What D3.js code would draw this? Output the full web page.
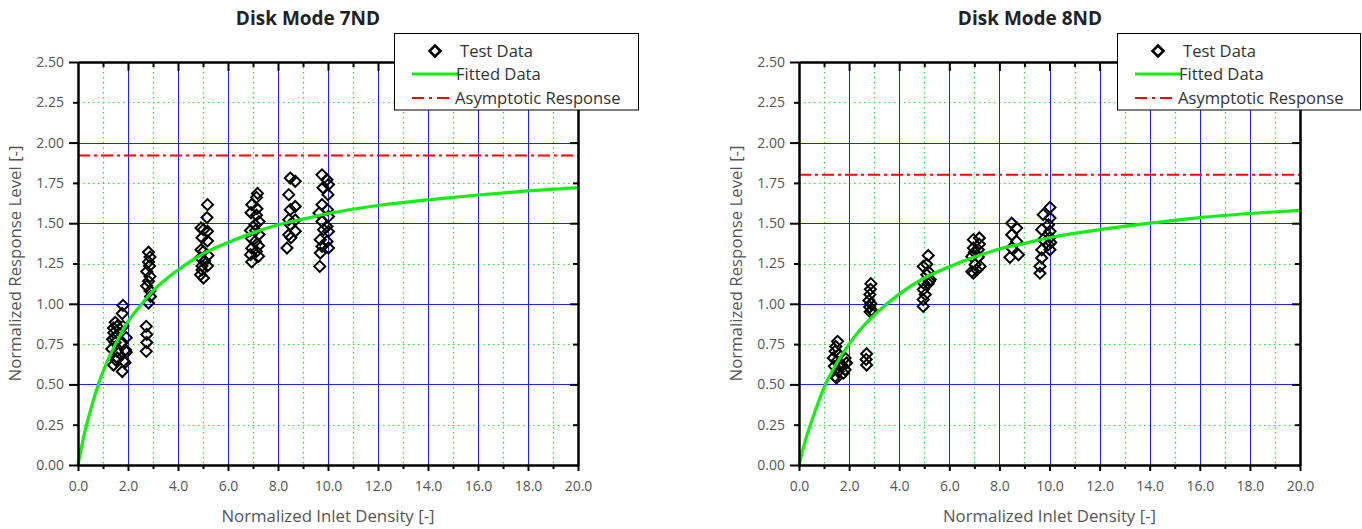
<!DOCTYPE html>
<html>
<head>
<meta charset="utf-8">
<script src="https://cdn.jsdelivr.net/npm/d3@7"></script>
<style>
  html, body { margin: 0; padding: 0; background: #fff; }
  svg { display: block; font-family: "Open Sans", "Noto Sans", sans-serif; }
</style>
</head>
<body>
<svg id="chart" width="1362" height="529"></svg>
<script>
// ---- Data -------------------------------------------------------------
const chartTitles = ["Disk Mode 7ND", "Disk Mode 8ND"];
const legendLabels = ["Test Data", "Fitted Data", "Asymptotic Response"];
const xAxisTitle = "Normalized Inlet Density [-]";
const yAxisTitle = "Normalized Response Level [-]";

const xMajorTicks = [0, 2, 4, 6, 8, 10, 12, 14, 16, 18, 20];
const xMinorTicks = [1, 3, 5, 7, 9, 11, 13, 15, 17, 19];
const yMajorTicks = [0, 0.5, 1.0, 1.5, 2.0, 2.5];
const yMinorTicks = [0.25, 0.75, 1.25, 1.75, 2.25];
const yTickLabels = ["0.00", "0.25", "0.50", "0.75", "1.00", "1.25", "1.50", "1.75", "2.00", "2.25", "2.50"];

// measured test points [density, response]
const mode7Test = [
  [1.80,0.99],[1.77,0.94],[1.49,0.885],[1.80,0.86],[1.56,0.86],[1.43,0.82],[1.47,0.79],[1.93,0.79],
  [1.49,0.76],[1.77,0.76],[1.90,0.715],[1.56,0.705],[1.93,0.70],[1.56,0.665],[1.83,0.645],[1.42,0.62],
  [1.88,0.635],[1.77,0.58],[1.38,0.78],[1.35,0.72],[1.52,0.65],[1.42,0.85],
  [2.82,1.32],[2.88,1.29],[2.82,1.26],[2.86,1.235],[2.75,1.20],[2.88,1.17],[2.82,1.14],[2.75,1.11],
  [2.88,1.08],[2.90,1.045],[2.82,1.005],[2.73,0.86],[2.75,0.81],[2.75,0.76],[2.73,0.705],
  [5.18,1.615],[5.16,1.535],[4.92,1.47],[5.02,1.46],[5.18,1.45],[4.96,1.41],[5.18,1.39],[4.92,1.335],
  [5.02,1.325],[5.20,1.30],[4.90,1.285],[5.06,1.265],[4.96,1.235],[5.18,1.235],[4.90,1.18],[5.02,1.16],[4.96,1.21],
  [7.18,1.685],[7.14,1.66],[6.95,1.615],[7.16,1.59],[6.92,1.565],[7.14,1.55],[7.24,1.51],[7.08,1.49],
  [6.90,1.455],[7.10,1.455],[7.24,1.43],[6.94,1.405],[7.09,1.387],[7.22,1.36],[6.95,1.345],[7.14,1.325],
  [6.90,1.305],[7.22,1.295],[6.95,1.26],
  [8.49,1.78],[8.69,1.76],[8.43,1.677],[8.69,1.604],[8.49,1.584],[8.43,1.522],[8.69,1.52],[8.49,1.49],
  [8.69,1.45],[8.43,1.428],[8.52,1.41],[8.36,1.346],
  [9.76,1.80],[9.96,1.77],[10.02,1.74],[9.80,1.72],[10.0,1.677],[9.76,1.615],[9.98,1.584],[9.64,1.563],
  [10.02,1.542],[9.76,1.511],[9.96,1.48],[9.82,1.46],[10.02,1.449],[9.69,1.398],[9.96,1.387],[9.76,1.356],
  [10.02,1.346],[9.69,1.315],[9.67,1.232]
];

const mode8Test = [
  [1.54,0.767],[1.44,0.705],[1.37,0.664],[1.84,0.664],[1.50,0.643],[1.90,0.633],[1.70,0.622],[1.41,0.612],
  [1.84,0.591],[1.57,0.58],[1.77,0.57],[1.44,0.55],[1.50,0.54],[1.47,0.735],[1.64,0.612],[1.60,0.685],
  [2.70,0.69],[2.68,0.655],[2.70,0.62],
  [2.87,1.125],[2.85,1.09],[2.83,1.057],[2.79,1.02],[2.87,1.00],[2.82,0.98],[2.90,0.96],[2.84,0.95],
  [5.16,1.30],[5.10,1.245],[4.96,1.232],[5.16,1.20],[5.24,1.15],[4.96,1.13],[5.16,1.125],[4.96,1.088],
  [5.04,1.057],[4.96,1.026],[4.96,0.984],[5.10,1.18],[5.20,1.14],
  [6.96,1.398],[7.20,1.408],[6.96,1.346],[7.16,1.335],[6.90,1.294],[7.16,1.29],[7.03,1.243],[7.23,1.232],
  [6.90,1.20],[7.10,1.21],[6.96,1.19],[7.20,1.37],[7.00,1.32],
  [8.49,1.50],[8.69,1.47],[8.49,1.428],[8.69,1.387],[8.49,1.346],[8.76,1.304],[8.42,1.288],
  [10.02,1.598],[9.75,1.553],[10.02,1.532],[9.96,1.49],[9.69,1.46],[10.02,1.45],[9.75,1.398],[10.02,1.41],
  [9.96,1.367],[9.69,1.335],[10.02,1.335],[9.69,1.284],[9.62,1.232],[9.62,1.19],[10.05,1.38]
];

// fitted curves sampled along the density axis
const fitDensity = [0, 0.25, 0.5, 0.75, 1, 1.5, 2, 2.5, 3, 4, 5, 6, 7, 8, 9, 10, 12, 14, 16, 18, 20];
const mode7Fit   = [0, 0.19, 0.34, 0.47, 0.58, 0.75, 0.89, 0.99, 1.08, 1.21, 1.31, 1.38, 1.44, 1.49, 1.525, 1.56, 1.61, 1.645, 1.675, 1.70, 1.72];
const mode8Fit   = [0, 0.15, 0.27, 0.38, 0.48, 0.63, 0.75, 0.85, 0.93, 1.06, 1.16, 1.23, 1.29, 1.34, 1.375, 1.41, 1.46, 1.50, 1.535, 1.56, 1.58];

// asymptotic response levels
const mode7Asymptote = 1.92;
const mode8Asymptote = 1.80;

// ---- Drawing ----------------------------------------------------------
const svg = d3.select("#chart");

const COLORS = {
  blueGrid: "#1f1fff",
  greenGrid: "#22dd22",
  fit: "#12f012",
  asym: "#ff0000",
  axis: "#000",
  tickText: "#555",
  title: "#222"
};

const panels = [
  { title: chartTitles[0], test: mode7Test, fit: mode7Fit, asym: mode7Asymptote,
    x0: 78, x1: 578, titleX: 308, legendX: 394, legendW: 244 },
  { title: chartTitles[1], test: mode8Test, fit: mode8Fit, asym: mode8Asymptote,
    x0: 799, x1: 1300, titleX: 1030, legendX: 1117, legendW: 243 }
];

const yTop = 62, yBottom = 465;

function diamond(r) {
  return `M0,${-r}L${r},0L0,${r}L${-r},0Z`;
}

function drawPanel(p) {
  const g = svg.append("g");
  const x = d3.scaleLinear().domain([0, 20]).range([p.x0, p.x1]);
  const y = d3.scaleLinear().domain([0, 2.5]).range([yBottom, yTop]);

  // minor grid (dotted green)
  const grid = g.append("g");
  grid.selectAll(".vmin").data(xMinorTicks).join("line")
    .attr("x1", d => Math.round(x(d)) + 0.5).attr("x2", d => Math.round(x(d)) + 0.5)
    .attr("y1", yTop).attr("y2", yBottom)
    .attr("stroke", COLORS.greenGrid).attr("stroke-width", 1.2).attr("stroke-dasharray", "1.5,3.5");
  grid.selectAll(".hmin").data(yMinorTicks).join("line")
    .attr("y1", d => Math.round(y(d)) + 0.5).attr("y2", d => Math.round(y(d)) + 0.5)
    .attr("x1", p.x0).attr("x2", p.x1)
    .attr("stroke", COLORS.greenGrid).attr("stroke-width", 1.2).attr("stroke-dasharray", "1.5,3.5");

  // major grid (solid blue)
  grid.selectAll(".vmaj").data(xMajorTicks.slice(1, -1)).join("line")
    .attr("x1", d => Math.round(x(d)) + 0.5).attr("x2", d => Math.round(x(d)) + 0.5)
    .attr("y1", yTop).attr("y2", yBottom)
    .attr("stroke", COLORS.blueGrid).attr("stroke-width", 1);
  grid.selectAll(".hmaj").data(yMajorTicks.slice(1, -1)).join("line")
    .attr("y1", d => Math.round(y(d)) + 0.5).attr("y2", d => Math.round(y(d)) + 0.5)
    .attr("x1", p.x0).attr("x2", p.x1)
    .attr("stroke", COLORS.blueGrid).attr("stroke-width", 1);

  // asymptotic response
  g.append("line")
    .attr("x1", p.x0).attr("x2", p.x1)
    .attr("y1", y(p.asym)).attr("y2", y(p.asym))
    .attr("stroke", COLORS.asym).attr("stroke-width", 2)
    .attr("stroke-dasharray", "12,4,3,4");

  // test points
  g.append("g").selectAll("path").data(p.test).join("path")
    .attr("transform", d => `translate(${x(d[0])},${y(d[1])})`)
    .attr("d", diamond(5.5))
    .attr("fill", "none").attr("stroke", "#000").attr("stroke-width", 2);

  // fitted curve
  const line = d3.line()
    .x((d, i) => x(fitDensity[i]))
    .y(d => y(d))
    .curve(d3.curveMonotoneX);
  g.append("path").datum(p.fit)
    .attr("d", line)
    .attr("fill", "none").attr("stroke", COLORS.fit).attr("stroke-width", 3.2);

  // axes
  const styleAxis = sel => {
    sel.select(".domain").attr("stroke", COLORS.axis).attr("stroke-width", 2);
    sel.selectAll(".tick line").attr("stroke", COLORS.axis).attr("stroke-width", 2);
    sel.selectAll("text").attr("fill", COLORS.tickText).attr("font-size", "14px")
      .attr("font-family", '"Open Sans", sans-serif');
  };

  // bottom
  g.append("g").attr("transform", `translate(0,${yBottom})`)
    .call(d3.axisBottom(x).tickValues(xMinorTicks).tickSize(4).tickSizeOuter(0).tickFormat(""))
    .call(styleAxis);
  g.append("g").attr("transform", `translate(0,${yBottom})`)
    .call(d3.axisBottom(x).tickValues(xMajorTicks).tickSize(6).tickPadding(10.5).tickSizeOuter(0)
      .tickFormat(d3.format(".1f")))
    .call(styleAxis);

  // left
  g.append("g").attr("transform", `translate(${p.x0},0)`)
    .call(d3.axisLeft(y).tickValues(yMinorTicks).tickSize(5).tickSizeOuter(0).tickPadding(9)
      .tickFormat(d => yTickLabels[Math.round(d / 0.25)]))
    .call(styleAxis);
  g.append("g").attr("transform", `translate(${p.x0},0)`)
    .call(d3.axisLeft(y).tickValues(yMajorTicks).tickSize(9).tickSizeOuter(0).tickPadding(5)
      .tickFormat(d => yTickLabels[Math.round(d / 0.25)]))
    .call(styleAxis);

  // top (inward ticks)
  g.append("g").attr("transform", `translate(0,${yTop})`)
    .call(d3.axisTop(x).tickValues(xMinorTicks).tickSize(-5).tickSizeOuter(0).tickFormat(""))
    .call(styleAxis);
  g.append("g").attr("transform", `translate(0,${yTop})`)
    .call(d3.axisTop(x).tickValues(xMajorTicks.slice(1, -1)).tickSize(-9).tickSizeOuter(0).tickFormat(""))
    .call(styleAxis);

  // right (inward ticks)
  g.append("g").attr("transform", `translate(${p.x1},0)`)
    .call(d3.axisRight(y).tickValues(yMinorTicks).tickSize(-5).tickSizeOuter(0).tickFormat(""))
    .call(styleAxis);
  g.append("g").attr("transform", `translate(${p.x1},0)`)
    .call(d3.axisRight(y).tickValues(yMajorTicks.slice(1, -1)).tickSize(-8).tickSizeOuter(0).tickFormat(""))
    .call(styleAxis);

  // titles
  g.append("text")
    .attr("x", p.titleX).attr("y", 25)
    .attr("text-anchor", "middle")
    .attr("font-size", "19px").attr("font-weight", "bold")
    .attr("fill", COLORS.title)
    .text(p.title);

  g.append("text")
    .attr("x", (p.x0 + p.x1) / 2).attr("y", 522)
    .attr("text-anchor", "middle")
    .attr("font-size", "16.8px").attr("fill", COLORS.tickText)
    .text(xAxisTitle);

  g.append("text")
    .attr("transform", `translate(${p.x0 - 57},${(yTop + yBottom) / 2}) rotate(-90)`)
    .attr("text-anchor", "middle")
    .attr("font-size", "16.8px").attr("fill", COLORS.tickText)
    .text(yAxisTitle);

  // legend
  const lg = g.append("g").attr("transform", `translate(${p.legendX},33)`);
  lg.append("rect")
    .attr("x", 0.5).attr("y", 0.5).attr("width", p.legendW).attr("height", 76.5)
    .attr("fill", "#fff").attr("stroke", "#000").attr("stroke-width", 1);
  lg.append("path")
    .attr("transform", "translate(41,18)")
    .attr("d", diamond(5.5))
    .attr("fill", "none").attr("stroke", "#000").attr("stroke-width", 2.6);
  lg.append("line").attr("x1", 18).attr("x2", 64).attr("y1", 41).attr("y2", 41)
    .attr("stroke", COLORS.fit).attr("stroke-width", 3.2);
  lg.append("line").attr("x1", 18).attr("x2", 60).attr("y1", 65).attr("y2", 65)
    .attr("stroke", COLORS.asym).attr("stroke-width", 2).attr("stroke-dasharray", "12,5,3,5");
  const legendText = [[66, 23.5], [62, 46.5], [61, 70.5]];
  lg.selectAll("text.lbl").data(legendLabels).join("text")
    .attr("x", (d, i) => legendText[i][0]).attr("y", (d, i) => legendText[i][1])
    .attr("font-size", "16.6px").attr("fill", "#333")
    .text(d => d);
}

panels.forEach(drawPanel);
</script>
</body>
</html>
